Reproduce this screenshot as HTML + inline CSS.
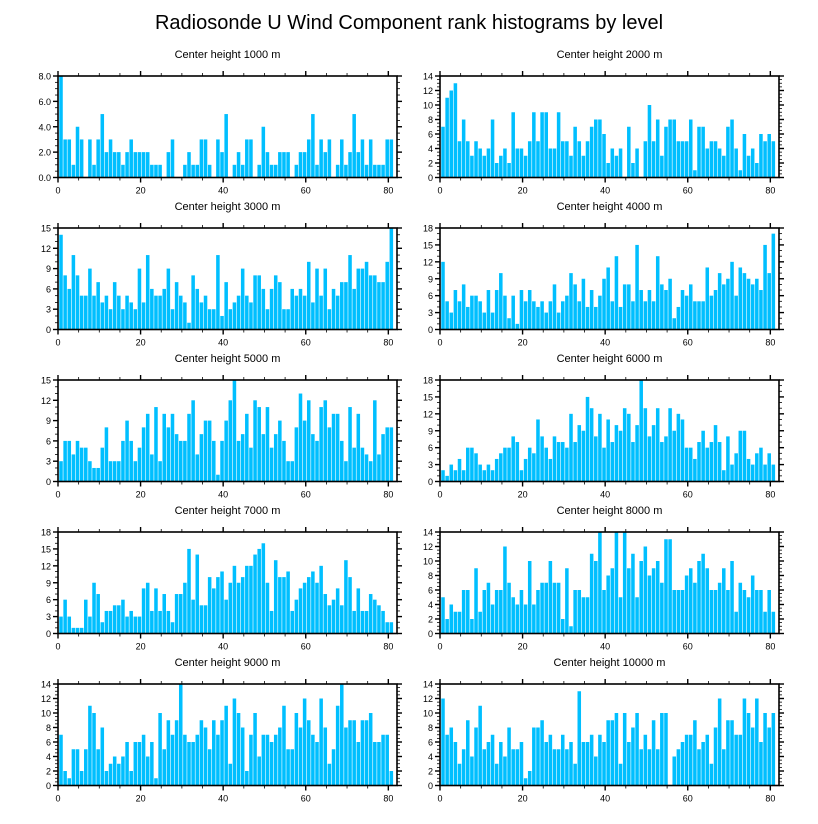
<!DOCTYPE html>
<html><head><meta charset="utf-8">
<style>
html,body{margin:0;padding:0;background:#fff;}
svg{display:block;font-family:"Liberation Sans",sans-serif;}
</style></head>
<body>
<svg id="fig" width="818" height="824" viewBox="0 0 818 824" xmlns="http://www.w3.org/2000/svg">
<text x="409" y="29" font-size="20" text-anchor="middle" fill="#000">Radiosonde U Wind Component rank histograms by level</text>
</svg>
<script>
const titles = ["Center height 1000 m","Center height 2000 m","Center height 3000 m","Center height 4000 m","Center height 5000 m","Center height 6000 m","Center height 7000 m","Center height 8000 m","Center height 9000 m","Center height 10000 m"];
const yMaxes = [8,14,15,18,15,18,18,14,14,14];
const yMajorSteps = [2,2,3,3,3,3,3,2,2,2];
const xTicks = [0,20,40,60,80];
const v1000 = [8,3,3,1,4,3,0,3,1,3,5,2,3,2,2,1,2,3,2,2,2,2,1,1,1,0,2,3,0,0,1,2,1,1,3,3,1,0,3,2,5,0,1,2,1,3,3,0,1,4,2,1,1,2,2,2,0,1,2,2,3,5,1,3,2,3,0,1,3,1,2,5,2,3,1,3,1,1,1,3,3];
const v2000 = [7,11,12,13,5,8,5,3,5,4,3,4,8,2,3,4,2,9,4,4,3,5,9,5,9,9,4,4,9,5,5,3,7,5,3,5,7,8,8,6,2,4,3,4,0,7,2,4,0,5,10,5,8,3,7,8,8,5,5,5,8,1,7,7,4,5,5,4,3,7,8,4,1,6,3,4,2,6,5,6,5];
const v3000 = [14,8,6,11,8,5,5,9,5,7,4,5,3,7,5,3,5,4,3,9,4,11,6,5,5,6,9,3,7,5,4,1,8,6,4,5,3,3,11,2,7,3,4,5,9,5,4,8,8,6,3,6,8,7,3,3,6,5,6,5,10,4,9,5,9,3,6,5,7,7,11,6,9,9,10,8,8,7,7,10,15];
const v4000 = [12,5,3,7,5,8,4,6,6,5,3,7,3,7,10,6,2,6,1,7,5,7,5,4,5,3,5,8,3,5,6,10,8,5,9,4,7,4,6,9,11,5,13,4,8,8,5,15,7,5,7,5,13,8,7,9,2,4,7,6,8,5,5,5,11,6,7,10,8,9,12,6,11,10,9,8,9,7,15,10,17];
const v5000 = [3,6,6,4,6,5,5,3,2,2,5,8,3,3,3,6,9,6,3,5,8,10,4,11,3,10,8,10,7,6,6,10,12,4,7,9,9,6,1,6,9,12,15,6,7,10,5,12,11,7,11,5,7,9,6,3,3,8,13,9,12,7,6,11,12,8,10,10,6,3,11,5,10,5,4,3,12,4,7,8,8];
const v6000 = [2,1,3,2,4,2,6,6,5,3,2,3,2,4,5,6,6,8,7,2,4,6,5,11,8,6,4,8,7,7,6,12,7,10,9,15,13,8,12,6,11,7,10,9,13,12,7,10,18,13,8,10,13,7,8,13,9,12,11,6,6,4,7,9,6,7,10,7,2,8,3,5,9,9,4,3,5,6,3,5,3];
const v7000 = [3,6,3,1,1,1,6,3,9,7,2,4,4,5,5,6,3,4,3,3,8,9,4,8,4,7,4,2,7,7,9,15,6,14,5,5,10,8,10,11,6,9,12,9,10,12,12,14,15,16,9,4,13,10,10,11,4,6,8,9,10,11,9,12,7,5,6,8,5,13,10,4,8,4,4,7,6,5,4,2,2];
const v8000 = [5,2,4,3,3,6,6,2,9,3,6,7,4,6,6,12,7,5,4,6,4,10,4,6,7,7,10,7,7,2,9,1,6,6,5,5,11,10,14,6,8,9,14,5,14,9,11,5,10,12,8,9,10,7,13,13,6,6,6,8,9,7,10,11,9,6,6,7,9,6,10,3,7,6,5,8,6,6,3,6,3];
const v9000 = [7,2,1,5,5,2,5,11,10,5,8,2,3,4,3,4,6,2,6,6,7,4,6,1,10,5,9,7,9,14,7,6,6,7,9,8,5,9,7,9,11,3,12,10,8,2,7,10,4,7,7,6,7,8,11,5,5,10,8,12,9,7,6,12,8,3,5,11,14,8,9,9,6,9,9,10,6,6,7,7,2];
const v10000 = [12,7,8,6,3,5,9,4,8,11,5,6,7,3,6,4,8,5,5,6,1,2,8,8,9,6,7,5,5,7,5,6,3,13,6,6,7,4,7,6,9,9,10,3,10,6,8,10,5,7,5,9,5,10,10,0,4,5,6,7,7,9,5,6,7,3,8,12,5,9,9,7,7,12,10,8,12,6,10,8,10];
const series = [v1000,v2000,v3000,v4000,v5000,v6000,v7000,v8000,v9000,v10000];

const NS = "http://www.w3.org/2000/svg";
const svg = document.getElementById("fig");
function mk(tag, attrs, parent){
  const e = document.createElementNS(NS, tag);
  for (const k in attrs) e.setAttribute(k, attrs[k]);
  (parent||svg).appendChild(e);
  return e;
}
const XMAX = 82.1, PW = 339, PH = 101.5;
const lefts = [58, 440], tops = [76, 228, 380, 532, 684];

series.forEach((vals, p) => {
  const px = lefts[p % 2], py = tops[Math.floor(p / 2)];
  const ymax = yMaxes[p], step = yMajorSteps[p];
  const xs = v => px + v / XMAX * PW;
  const ys = v => py + PH - v / ymax * PH;
  const g = mk("g", {});
  
  

  const t = mk("text", {x: px + PW/2, y: py - 18, "font-size": 11, "text-anchor": "middle", fill: "#000"}, g);
  t.textContent = titles[p];
  
  

  vals.forEach((v, i) => {
    if (v <= 0) return;
    const x0 = xs(i + 0.3), x1 = xs(i + 1.3);
    const r = mk("rect", {x: x0, y: ys(v), width: Math.max(0.5, x1 - x0 - 0.6), height: ys(0) - ys(v), fill: "#00bfff"}, g);
    
    
  });

  const frame = mk("rect", {x: px, y: py, width: PW, height: PH, fill: "none", stroke: "#000", "stroke-width": 1.6}, g);
  
  

  // x ticks (major at 20, minor at 5)
  for (let v = 0; v <= 80; v += 5) {
    const major = v % 20 === 0, L = major ? 5 : 3, x = xs(v);
    mk("line", {x1: x, x2: x, y1: py + PH, y2: py + PH + L, stroke: "#000", "stroke-width": major ? 1.4 : 0.8}, g);
    mk("line", {x1: x, x2: x, y1: py, y2: py - L, stroke: "#000", "stroke-width": major ? 1.4 : 0.8}, g);
  }
  xTicks.forEach(v => {
    const tl = mk("text", {x: xs(v), y: py + PH + 16, "font-size": 9, "text-anchor": "middle", fill: "#000"}, g);
    tl.textContent = v;
    
    
  });
  // y ticks
  const minor = step === 2 ? 0.5 : 1;
  for (let v = 0; v <= ymax + 1e-9; v += minor) {
    const major = Math.abs(v / step - Math.round(v / step)) < 1e-6, L = major ? 5 : 3, y = ys(v);
    mk("line", {x1: px, x2: px - L, y1: y, y2: y, stroke: "#000", "stroke-width": major ? 1.4 : 0.8}, g);
    mk("line", {x1: px + PW, x2: px + PW + L, y1: y, y2: y, stroke: "#000", "stroke-width": major ? 1.4 : 0.8}, g);
  }
  for (let v = 0; v <= ymax + 1e-9; v += step) {
    const tl = mk("text", {x: px - 7, y: ys(v) + 3.5, "font-size": 9, "text-anchor": "end", fill: "#000"}, g);
    tl.textContent = p === 0 ? v.toFixed(1) : v;
    
    
  }
});
</script>
</body></html>
